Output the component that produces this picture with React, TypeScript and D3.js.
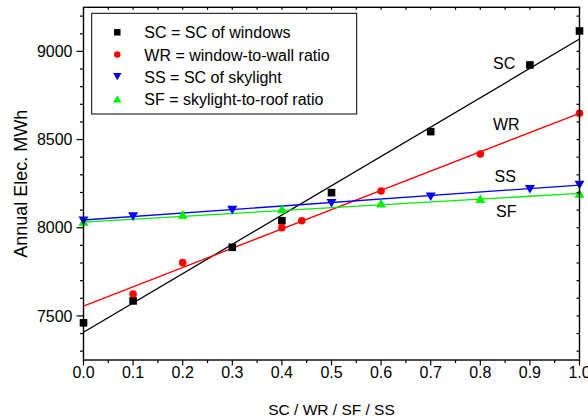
import React from "react";
import * as d3 from "d3";

const scX = [0, 0.1, 0.3, 0.4, 0.5, 0.7, 0.9, 1.0];
const scY = [7461, 7585, 7889, 8040, 8199, 8545, 8923, 9116];
const wrX = [0.1, 0.2, 0.4, 0.44, 0.6, 0.8, 1.0];
const wrY = [7624, 7802, 8000, 8040, 8208, 8418, 8649];
const ssX = [0, 0.1, 0.3, 0.5, 0.7, 0.9, 1.0];
const ssY = [8040, 8063, 8100, 8139, 8176, 8218, 8242];
const sfX = [0, 0.2, 0.4, 0.6, 0.8, 1.0];
const sfY = [8035, 8076, 8106, 8139, 8165, 8195];

// fitted straight lines: value at x=0 and at x=1
const scFit = [7407, 9070];
const wrFit = [7556, 8649];
const ssFit = [8044, 8242];
const sfFit = [8032, 8195];

const xMajor = [0, 0.1, 0.2, 0.3, 0.4, 0.5, 0.6, 0.7, 0.8, 0.9, 1.0];
const yMajor = [7500, 8000, 8500, 9000];

const legendLabels = [
  "SC = SC of windows",
  "WR = window-to-wall ratio",
  "SS = SC of skylight",
  "SF = skylight-to-roof ratio",
];
const seriesNames = ["SC", "WR", "SS", "SF"];
const colors = ["#000000", "#ff0000", "#0000ff", "#00f000"];
const xTitle = "SC / WR / SF / SS";
const yTitle = "Annual Elec. MWh";

const W = 588;
const H = 419;
const L = 83.5, R = 579.5, T = 7.3, B = 360;
const FONT = "'Liberation Sans', Arial, Helvetica, sans-serif";

export default function App() {
  const x = d3.scaleLinear().domain([0, 1]).range([L, R]);
  const y = d3.scaleLinear().domain([7250, 9250]).range([B, T]);

  const xMinor = d3.range(0, 1.0001, 0.05);
  const yMinor = d3.range(7300, 9250, 100);

  const series = [
    { xs: scX, ys: scY, fit: scFit, shape: "square" },
    { xs: wrX, ys: wrY, fit: wrFit, shape: "circle" },
    { xs: ssX, ys: ssY, fit: ssFit, shape: "down" },
    { xs: sfX, ys: sfY, fit: sfFit, shape: "up" },
  ];

  const marker = (shape: string, cx: number, cy: number, color: string, key: any, s = 1) => {
    if (shape === "square") {
      const h = 3.8 * s;
      return <rect key={key} x={cx - h} y={cy - h} width={2 * h} height={2 * h} fill={color} />;
    }
    if (shape === "circle") {
      return <circle key={key} cx={cx} cy={cy} r={3.8 * s} fill={color} />;
    }
    const w = 5 * s, hh = 4.3 * s;
    if (shape === "down") {
      const p = `M${cx - w},${cy - hh}L${cx + w},${cy - hh}L${cx},${cy + hh}Z`;
      return <path key={key} d={p} fill={color} />;
    }
    const p = `M${cx - w},${cy + hh}L${cx + w},${cy + hh}L${cx},${cy - hh}Z`;
    return <path key={key} d={p} fill={color} />;
  };

  const line = d3.line<[number, number]>().x((d) => x(d[0])).y((d) => y(d[1]));

  const drawOrder = [0, 1, 3, 2];

  return (
    <svg width={W} height={H} style={{ position: "absolute", left: 0, top: 0 }} fontFamily={FONT}>
      <rect x={0} y={0} width={W} height={H} fill="#fff" />
      {/* fit lines */}
      {drawOrder.map((i) => {
        const s = series[i];
        return (
          <path
            key={"l" + i}
            d={line([[0, s.fit[0]], [1, s.fit[1]]]) || ""}
            stroke={colors[i]}
            strokeWidth={1.3}
            fill="none"
          />
        );
      })}
      {/* markers */}
      {drawOrder.map((i) => {
        const s = series[i];
        return (
          <g key={"m" + i}>
            {s.xs.map((v, j) => marker(s.shape, x(v), y(s.ys[j]), colors[i], j))}
          </g>
        );
      })}
      {/* frame */}
      <rect x={L} y={T} width={R - L} height={B - T} fill="none" stroke="#000" strokeWidth={1.4} />
      {/* left ticks */}
      {yMinor.map((v) => (
        <line key={"ylm" + v} x1={L - (yMajor.includes(v) ? 7 : 3.5)} x2={L} y1={y(v)} y2={y(v)} stroke="#000" strokeWidth={1.2} />
      ))}
      {/* right ticks */}
      {yMinor.map((v) => (
        <line key={"yr" + v} x1={R - 3} x2={R} y1={y(v)} y2={y(v)} stroke="#000" strokeWidth={1.2} />
      ))}
      {/* bottom ticks */}
      {xMinor.map((v, i) => (
        <line key={"xb" + i} x1={x(v)} x2={x(v)} y1={B} y2={B + (i % 2 === 0 ? 5.5 : 3)} stroke="#000" strokeWidth={1.2} />
      ))}
      {/* top ticks */}
      {xMinor.map((v, i) => (
        <line key={"xt" + i} x1={x(v)} x2={x(v)} y1={T} y2={T + 2.5} stroke="#000" strokeWidth={1.2} />
      ))}
      {/* tick labels */}
      {yMajor.map((v) => (
        <text key={"yl" + v} x={L - 11} y={y(v)} dy="0.35em" textAnchor="end" fontSize={16}>
          {v}
        </text>
      ))}
      {xMajor.map((v) => (
        <text key={"xl" + v} x={x(v)} y={378} textAnchor="middle" fontSize={16}>
          {v.toFixed(1)}
        </text>
      ))}
      <text x={(L + R) / 2} y={414.5} textAnchor="middle" fontSize={15.5}>
        {xTitle}
      </text>
      <text transform={`translate(26.5,${183.7}) rotate(-90)`} textAnchor="middle" fontSize={18}>
        {yTitle}
      </text>
      {/* series labels */}
      {[
        [493, 69],
        [493, 130],
        [494.5, 181.5],
        [496, 216.5],
      ].map((p, i) => (
        <text key={"sl" + i} x={p[0]} y={p[1]} fontSize={16}>
          {seriesNames[i]}
        </text>
      ))}
      {/* legend */}
      <rect x={91.7} y={13.3} width={265} height={100.7} fill="#fff" stroke="#000" strokeWidth={1} />
      {legendLabels.map((lab, i) => {
        const yy = 38.3 + i * 22.2;
        return (
          <g key={"lg" + i}>
            {marker(series[i].shape, 117.3, yy - 6, colors[i], "lm" + i, 0.85)}
            <text x={144.3} y={yy} fontSize={16}>
              {lab}
            </text>
          </g>
        );
      })}
    </svg>
  );
}
